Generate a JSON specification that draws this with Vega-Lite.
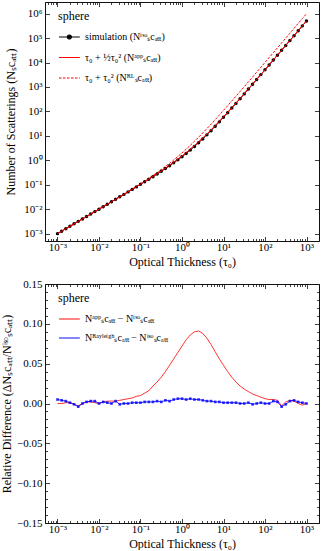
{
  "$schema": "https://vega.github.io/schema/vega-lite/v6.json",
  "padding": {"left": 0, "top": 1, "right": 1, "bottom": 0},
  "spacing": 9,
  "resolve": {"scale": {"color": "independent", "strokeDash": "independent"}, "legend": {"color": "independent", "strokeDash": "independent"}},
  "config": {
    "font": "Liberation Serif",
    "view": {"stroke": "#111", "strokeWidth": 1},
    "axis": {
      "labelFont": "Liberation Serif", "labelFontSize": 11, "labelColor": "#000",
      "titleFont": "Liberation Serif", "titleFontSize": 12, "titleFontWeight": "normal", "titleColor": "#000",
      "tickColor": "#111", "tickWidth": 0.8, "domain": false, "grid": false,
      "labelFlush": false, "labelOverlap": false, "labelBound": false
    },
    "legend": {
      "titleFont": "Liberation Serif", "titleFontSize": 12, "titleFontWeight": "normal", "titleColor": "#000",
      "labelFont": "Liberation Serif", "labelFontSize": 10, "labelColor": "#000", "labelFontWeight": "normal",
      "symbolSize": 256, "symbolStrokeWidth": 1.2, "rowPadding": 6.5, "titlePadding": 5, "labelOffset": 9
    }
  },
  "datasets": {
    "top": [
      {"t":0.001,"sim":0.0010005,"app":0.0010005,"rl":0.001001},
      {"t":0.0012589,"sim":0.0012597,"app":0.0012597,"rl":0.0012605},
      {"t":0.0015849,"sim":0.0015846,"app":0.0015862,"rl":0.0015874},
      {"t":0.0019953,"sim":0.0019953,"app":0.0019973,"rl":0.0019993},
      {"t":0.0025119,"sim":0.0025176,"app":0.0025151,"rl":0.0025182},
      {"t":0.0031623,"sim":0.0031768,"app":0.0031673,"rl":0.0031723},
      {"t":0.0039811,"sim":0.003989,"app":0.003989,"rl":0.0039969},
      {"t":0.0050119,"sim":0.0050145,"app":0.0050245,"rl":0.005037},
      {"t":0.0063096,"sim":0.0063169,"app":0.0063295,"rl":0.0063494},
      {"t":0.0079433,"sim":0.0079668,"app":0.0079748,"rl":0.0080064},
      {"t":0.01,"sim":0.01005,"app":0.01005,"rl":0.0101},
      {"t":0.012589,"sim":0.012643,"app":0.012668,"rl":0.012748},
      {"t":0.015849,"sim":0.015927,"app":0.015975,"rl":0.0161},
      {"t":0.019953,"sim":0.020092,"app":0.020152,"rl":0.020351},
      {"t":0.025119,"sim":0.025358,"app":0.025434,"rl":0.02575},
      {"t":0.031623,"sim":0.031995,"app":0.032123,"rl":0.032623},
      {"t":0.039811,"sim":0.040401,"app":0.040603,"rl":0.041396},
      {"t":0.050119,"sim":0.051069,"app":0.051375,"rl":0.052631},
      {"t":0.063096,"sim":0.064635,"app":0.065087,"rl":0.067077},
      {"t":0.079433,"sim":0.081851,"app":0.082588,"rl":0.085743},
      {"t":0.1,"sim":0.10396,"app":0.105,"rl":0.11},
      {"t":0.12589,"sim":0.13209,"app":0.13381,"rl":0.14174},
      {"t":0.15849,"sim":0.16836,"app":0.17105,"rl":0.18361},
      {"t":0.19953,"sim":0.21472,"app":0.21944,"rl":0.23934},
      {"t":0.25119,"sim":0.27531,"app":0.28274,"rl":0.31429},
      {"t":0.31623,"sim":0.35453,"app":0.36623,"rl":0.41623},
      {"t":0.39811,"sim":0.459,"app":0.47736,"rl":0.5566},
      {"t":0.50119,"sim":0.59808,"app":0.62679,"rl":0.75238},
      {"t":0.63096,"sim":0.786,"app":0.83002,"rl":1.02907},
      {"t":0.79433,"sim":1.04306,"app":1.10981,"rl":1.42529},
      {"t":1,"sim":1.39925,"app":1.5,"rl":2},
      {"t":1.2589,"sim":1.89944,"app":2.0514,"rl":2.8438},
      {"t":1.5849,"sim":2.61593,"app":2.8409,"rl":4.0968},
      {"t":1.9953,"sim":3.65679,"app":3.9859,"rl":5.9764},
      {"t":2.5119,"sim":5.19404,"app":5.6667,"rl":8.8215},
      {"t":3.1623,"sim":7.50211,"app":8.1623,"rl":13.162},
      {"t":3.9811,"sim":11.0037,"app":11.906,"rl":19.83},
      {"t":5.0119,"sim":16.3603,"app":17.571,"rl":30.131},
      {"t":6.3096,"sim":24.615,"app":26.215,"rl":46.121},
      {"t":7.9433,"sim":37.3968,"app":39.491,"rl":71.039},
      {"t":10,"sim":57.2519,"app":60,"rl":110},
      {"t":12.589,"sim":88.3019,"app":91.834,"rl":171.08},
      {"t":15.849,"sim":136.922,"app":141.44,"rl":267.04},
      {"t":19.953,"sim":213.252,"app":219.01,"rl":418.06},
      {"t":25.119,"sim":333.268,"app":340.6,"rl":656.08},
      {"t":31.623,"sim":522.221,"app":531.62,"rl":1031.6},
      {"t":39.811,"sim":819.961,"app":832.26,"rl":1624.7},
      {"t":50.119,"sim":1290.61,"app":1306.1,"rl":2562},
      {"t":63.096,"sim":2033.27,"app":2053.6,"rl":4044.2},
      {"t":79.433,"sim":3208.53,"app":3234.2,"rl":6389},
      {"t":100,"sim":5069.58,"app":5100,"rl":10100},
      {"t":125.89,"sim":8010.35,"app":8050.4,"rl":15975},
      {"t":158.49,"sim":12654.7,"app":12718,"rl":25277},
      {"t":199.53,"sim":20024.9,"app":20105,"rl":40011},
      {"t":251.19,"sim":31894.7,"app":31799,"rl":63347},
      {"t":316.23,"sim":50215.6,"app":50316,"rl":100316},
      {"t":398.11,"sim":79325.7,"app":79643,"rl":158887},
      {"t":501.19,"sim":125719,"app":126096,"rl":251690},
      {"t":630.96,"sim":199685,"app":199685,"rl":398738},
      {"t":794.33,"sim":316907,"app":316273,"rl":631751},
      {"t":1000,"sim":501000,"app":501000,"rl":1001000}
    ],
    "diff": [
      {"t":0.001,"app":0.0,"ray":0.005},
      {"t":0.0012589,"app":0.0,"ray":0.004},
      {"t":0.0015849,"app":0.001,"ray":0.003},
      {"t":0.0019953,"app":0.001,"ray":0.001},
      {"t":0.0025119,"app":-0.001,"ray":-0.001},
      {"t":0.0031623,"app":-0.003,"ray":-0.004},
      {"t":0.0039811,"app":0.0,"ray":0.0},
      {"t":0.0050119,"app":0.002,"ray":0.002},
      {"t":0.0063096,"app":0.002,"ray":0.003},
      {"t":0.0079433,"app":0.001,"ray":0.003},
      {"t":0.01,"app":0.0,"ray":0.0},
      {"t":0.012589,"app":0.002,"ray":0.002},
      {"t":0.015849,"app":0.003,"ray":0.001},
      {"t":0.019953,"app":0.003,"ray":0.0},
      {"t":0.025119,"app":0.003,"ray":0.003},
      {"t":0.031623,"app":0.004,"ray":-0.001},
      {"t":0.039811,"app":0.005,"ray":0.0},
      {"t":0.050119,"app":0.006,"ray":0.0},
      {"t":0.063096,"app":0.007,"ray":0.001},
      {"t":0.079433,"app":0.009,"ray":0.001},
      {"t":0.1,"app":0.01,"ray":0.001},
      {"t":0.12589,"app":0.013,"ray":0.002},
      {"t":0.15849,"app":0.016,"ray":0.002},
      {"t":0.19953,"app":0.022,"ray":0.002},
      {"t":0.25119,"app":0.027,"ray":0.003},
      {"t":0.31623,"app":0.033,"ray":0.002},
      {"t":0.39811,"app":0.04,"ray":0.004},
      {"t":0.50119,"app":0.048,"ray":0.003},
      {"t":0.63096,"app":0.056,"ray":0.005},
      {"t":0.79433,"app":0.064,"ray":0.006},
      {"t":1,"app":0.072,"ray":0.006},
      {"t":1.2589,"app":0.08,"ray":0.005},
      {"t":1.5849,"app":0.086,"ray":0.006},
      {"t":1.9953,"app":0.09,"ray":0.005},
      {"t":2.5119,"app":0.091,"ray":0.005},
      {"t":3.1623,"app":0.088,"ray":0.004},
      {"t":3.9811,"app":0.082,"ray":0.003},
      {"t":5.0119,"app":0.074,"ray":0.003},
      {"t":6.3096,"app":0.065,"ray":0.002},
      {"t":7.9433,"app":0.056,"ray":0.002},
      {"t":10,"app":0.048,"ray":0.001},
      {"t":12.589,"app":0.04,"ray":0.001},
      {"t":15.849,"app":0.033,"ray":0.001},
      {"t":19.953,"app":0.027,"ray":0.001},
      {"t":25.119,"app":0.022,"ray":0.0},
      {"t":31.623,"app":0.018,"ray":0.0},
      {"t":39.811,"app":0.015,"ray":0.001},
      {"t":50.119,"app":0.012,"ray":-0.001},
      {"t":63.096,"app":0.01,"ray":0.0},
      {"t":79.433,"app":0.008,"ray":0.001},
      {"t":100,"app":0.006,"ray":0.0},
      {"t":125.89,"app":0.005,"ray":0.0},
      {"t":158.49,"app":0.005,"ray":0.003},
      {"t":199.53,"app":0.004,"ray":0.002},
      {"t":251.19,"app":-0.003,"ray":-0.004},
      {"t":316.23,"app":0.002,"ray":-0.001},
      {"t":398.11,"app":0.004,"ray":0.003},
      {"t":501.19,"app":0.003,"ray":0.004},
      {"t":630.96,"app":0.0,"ray":0.002},
      {"t":794.33,"app":-0.002,"ray":0.001},
      {"t":1000,"app":0.0,"ray":0.0}
    ]
  },
  "vconcat": [
    {
      "width": 274,
      "height": 239,
      "data": {"name": "top"},
      "resolve": {"axis": {"x": "independent", "y": "independent"}},
      "layer": [
        {
          "transform": [{"fold": ["sim", "app", "rl"], "as": ["series", "n"]}],
          "mark": {"type": "line", "strokeWidth": 1},
          "encoding": {
            "x": {"field": "t", "type": "quantitative",
              "scale": {"type": "log", "domain": [0.0005, 2000], "nice": false},
              "axis": {"orient": "bottom",
                "values": [0.0005,0.0006,0.0007,0.0008,0.0009,0.001,0.002,0.003,0.004,0.005,0.006,0.007,0.008,0.009,0.01,0.02,0.03,0.04,0.05,0.06,0.07,0.08,0.09,0.1,0.2,0.3,0.4,0.5,0.6,0.7,0.8,0.9,1,2,3,4,5,6,7,8,9,10,20,30,40,50,60,70,80,90,100,200,300,400,500,600,700,800,900,1000,2000],
                "tickSize": {"condition": {"test": "abs(log(datum.value)/LN10 - round(log(datum.value)/LN10)) < 0.001", "value": -4.5}, "value": -2.5},
                "labelExpr": "abs(log(datum.value)/LN10 - round(log(datum.value)/LN10)) < 0.001 ? '10' + ['⁻³','⁻²','⁻¹','⁰','¹','²','³'][round(log(datum.value)/LN10)+3] : ''",
                "labelPadding": 4.5,
                "title": "Optical Thickness (τ₀)", "titlePadding": 2}},
            "y": {"field": "n", "type": "quantitative",
              "scale": {"type": "log", "domain": [0.0005, 3000000], "nice": false},
              "axis": {"orient": "left",
                "values": [0.001,0.01,0.1,1,10,100,1000,10000,100000,1000000],
                "tickSize": -4.5,
                "labelExpr": "'10' + ['⁻³','⁻²','⁻¹','⁰','¹','²','³','⁴','⁵','⁶'][round(log(datum.value)/LN10)+3]",
                "labelPadding": 7.5,
                "title": "Number of Scatterings (Nₛcₐₜₜ)", "titlePadding": 6}},
            "color": {"field": "series", "type": "nominal",
              "scale": {"domain": ["sim", "app", "rl"], "range": ["#000000", "#ff0000", "#ff0000"]},
              "legend": {"orient": "none", "legendX": 13, "legendY": 9, "title": "sphere",
                "symbolType": "M-1,0H1.6",
                "labelExpr": "datum.value === 'sim' ? 'simulation (Nⁱˢᵒₛcₐₜₜ)' : datum.value === 'app' ? 'τ₀ + ½τ₀² (Nᵃᵖᵖₛcₐₜₜ)' : 'τ₀ + τ₀² (Nᴿᴸₛcₐₜₜ)'",
                "encode": {"symbols": {"update": {
                  "shape": {"signal": "datum.value === 'sim' ? 'M-1,0H1.6M0.55,0A0.25,0.25,0,1,1,0.05,0A0.25,0.25,0,1,1,0.55,0' : 'M-1,0H1.6'"},
                  "stroke": {"signal": "datum.value === 'sim' ? '#000000' : '#ff0000'"},
                  "fill": {"signal": "datum.value === 'sim' ? '#000000' : 'transparent'"},
                  "strokeDash": {"signal": "datum.value === 'rl' ? [2.5, 1.5] : [1, 0]"}}}}}},
            "strokeDash": {"field": "series", "type": "nominal",
              "scale": {"domain": ["sim", "app", "rl"], "range": [[1, 0], [1, 0], [2.5, 1.5]]},
              "legend": null}
          }
        },
        {
          "mark": {"type": "point", "filled": true, "color": "#000", "opacity": 1, "size": 12},
          "encoding": {
            "x": {"field": "t", "type": "quantitative", "axis": null},
            "y": {"field": "sim", "type": "quantitative", "axis": null}
          }
        },
        {
          "mark": {"type": "line", "color": "#ff0000", "strokeWidth": 1},
          "encoding": {
            "x": {"field": "t", "type": "quantitative", "axis": null},
            "y": {"field": "app", "type": "quantitative", "axis": null}
          }
        },
        {
          "mark": {"type": "point", "opacity": 0},
          "encoding": {
            "x": {"field": "t", "type": "quantitative",
              "axis": {"orient": "top", "labels": false, "title": null,
                "values": [0.0005,0.0006,0.0007,0.0008,0.0009,0.001,0.002,0.003,0.004,0.005,0.006,0.007,0.008,0.009,0.01,0.02,0.03,0.04,0.05,0.06,0.07,0.08,0.09,0.1,0.2,0.3,0.4,0.5,0.6,0.7,0.8,0.9,1,2,3,4,5,6,7,8,9,10,20,30,40,50,60,70,80,90,100,200,300,400,500,600,700,800,900,1000,2000],
                "tickSize": {"condition": {"test": "abs(log(datum.value)/LN10 - round(log(datum.value)/LN10)) < 0.001", "value": -4.5}, "value": -2.5}}},
            "y": {"field": "sim", "type": "quantitative",
              "axis": {"orient": "right", "labels": false, "title": null,
                "values": [0.001,0.01,0.1,1,10,100,1000,10000,100000,1000000], "tickSize": -4.5}}
          }
        }
      ]
    },
    {
      "width": 274,
      "height": 239,
      "data": {"name": "diff"},
      "resolve": {"axis": {"x": "independent", "y": "independent"}},
      "layer": [
        {
          "transform": [{"fold": ["app", "ray"], "as": ["series", "d"]}],
          "mark": {"type": "line", "strokeWidth": 1, "opacity": 0.8},
          "encoding": {
            "x": {"field": "t", "type": "quantitative",
              "scale": {"type": "log", "domain": [0.0005, 2000], "nice": false},
              "axis": {"orient": "bottom",
                "values": [0.0005,0.0006,0.0007,0.0008,0.0009,0.001,0.002,0.003,0.004,0.005,0.006,0.007,0.008,0.009,0.01,0.02,0.03,0.04,0.05,0.06,0.07,0.08,0.09,0.1,0.2,0.3,0.4,0.5,0.6,0.7,0.8,0.9,1,2,3,4,5,6,7,8,9,10,20,30,40,50,60,70,80,90,100,200,300,400,500,600,700,800,900,1000,2000],
                "tickSize": {"condition": {"test": "abs(log(datum.value)/LN10 - round(log(datum.value)/LN10)) < 0.001", "value": -4.5}, "value": -2.5},
                "labelExpr": "abs(log(datum.value)/LN10 - round(log(datum.value)/LN10)) < 0.001 ? '10' + ['⁻³','⁻²','⁻¹','⁰','¹','²','³'][round(log(datum.value)/LN10)+3] : ''",
                "labelPadding": 4.5,
                "title": "Optical Thickness (τ₀)", "titlePadding": 2}},
            "y": {"field": "d", "type": "quantitative",
              "scale": {"domain": [-0.15, 0.15], "nice": false, "zero": false},
              "axis": {"orient": "left",
                "values": [-0.15,-0.14,-0.13,-0.12,-0.11,-0.1,-0.09,-0.08,-0.07,-0.06,-0.05,-0.04,-0.03,-0.02,-0.01,0,0.01,0.02,0.03,0.04,0.05,0.06,0.07,0.08,0.09,0.1,0.11,0.12,0.13,0.14,0.15],
                "tickSize": {"condition": {"test": "abs(datum.value*20 - round(datum.value*20)) < 0.001", "value": -4.5}, "value": -2.5},
                "labelExpr": "abs(datum.value*20 - round(datum.value*20)) < 0.001 ? format(datum.value, '.2f') : ''",
                "labelPadding": 7.5,
                "title": "Relative Difference (ΔNₛcₐₜₜ/Nⁱˢᵒₛcₐₜₜ)", "titlePadding": 3}},
            "color": {"field": "series", "type": "nominal",
              "scale": {"domain": ["app", "ray"], "range": ["#ff0000", "#0000ff"]},
              "legend": {"orient": "none", "legendX": 13, "legendY": 9, "title": "sphere", "rowPadding": 5,
                "symbolType": "M-1,0H1.6",
                "labelExpr": "datum.value === 'app' ? 'Nᵃᵖᵖₛcₐₜₜ − Nⁱˢᵒₛcₐₜₜ' : 'Nᴿᵃʸˡᵉⁱᵍʰₛcₐₜₜ − Nⁱˢᵒₛcₐₜₜ'",
                "encode": {"symbols": {"update": {
                  "shape": {"signal": "datum.value === 'ray' ? 'M-1,0H1.6M0.1,-0.2H0.5V0.2H0.1Z' : 'M-1,0H1.6'"},
                  "stroke": {"signal": "datum.value === 'ray' ? '#0000ff' : '#ff0000'"},
                  "fill": {"signal": "datum.value === 'ray' ? '#0000ff' : 'transparent'"}}}}}}
          }
        },
        {
          "mark": {"type": "point", "shape": "square", "filled": true, "color": "#0000ff", "opacity": 0.8, "size": 7},
          "encoding": {
            "x": {"field": "t", "type": "quantitative", "axis": null},
            "y": {"field": "ray", "type": "quantitative", "axis": null}
          }
        },
        {
          "mark": {"type": "point", "opacity": 0},
          "encoding": {
            "x": {"field": "t", "type": "quantitative",
              "axis": {"orient": "top", "labels": false, "title": null,
                "values": [0.0005,0.0006,0.0007,0.0008,0.0009,0.001,0.002,0.003,0.004,0.005,0.006,0.007,0.008,0.009,0.01,0.02,0.03,0.04,0.05,0.06,0.07,0.08,0.09,0.1,0.2,0.3,0.4,0.5,0.6,0.7,0.8,0.9,1,2,3,4,5,6,7,8,9,10,20,30,40,50,60,70,80,90,100,200,300,400,500,600,700,800,900,1000,2000],
                "tickSize": {"condition": {"test": "abs(log(datum.value)/LN10 - round(log(datum.value)/LN10)) < 0.001", "value": -4.5}, "value": -2.5}}},
            "y": {"field": "ray", "type": "quantitative",
              "axis": {"orient": "right", "labels": false, "title": null,
                "values": [-0.15,-0.14,-0.13,-0.12,-0.11,-0.1,-0.09,-0.08,-0.07,-0.06,-0.05,-0.04,-0.03,-0.02,-0.01,0,0.01,0.02,0.03,0.04,0.05,0.06,0.07,0.08,0.09,0.1,0.11,0.12,0.13,0.14,0.15],
                "tickSize": {"condition": {"test": "abs(datum.value*20 - round(datum.value*20)) < 0.001", "value": -4.5}, "value": -2.5}}}
          }
        }
      ]
    }
  ]
}
